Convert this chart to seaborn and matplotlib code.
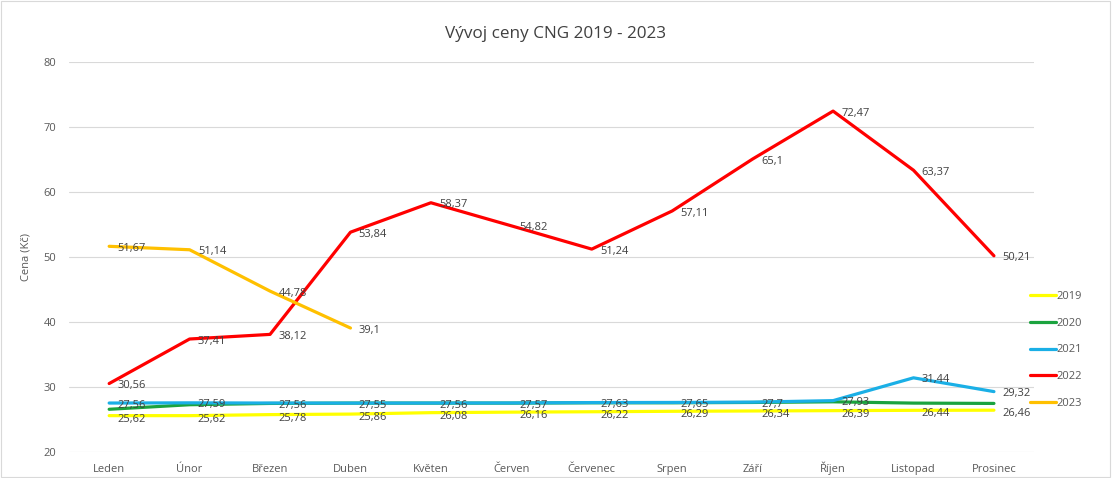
import matplotlib
matplotlib.use("Agg")
import matplotlib.pyplot as plt
import seaborn as sns
import pandas as pd
from matplotlib.lines import Line2D
from matplotlib.patches import Rectangle

months = ["Leden", "Únor", "Březen", "Duben", "Květen", "Červen", "Červenec",
          "Srpen", "Září", "Říjen", "Listopad", "Prosinec"]
y2019 = [25.62, 25.62, 25.78, 25.86, 26.08, 26.16, 26.22, 26.29, 26.34, 26.39, 26.44, 26.46]
y2020 = [26.6, 27.3, 27.5, 27.55, 27.55, 27.55, 27.6, 27.6, 27.65, 27.75, 27.55, 27.5]
y2021 = [27.56, 27.59, 27.56, 27.55, 27.56, 27.57, 27.63, 27.65, 27.7, 27.93, 31.44, 29.32]
y2022 = [30.56, 37.41, 38.12, 53.84, 58.37, 54.82, 51.24, 57.11, 65.1, 72.47, 63.37, 50.21]
y2023 = [51.67, 51.14, 44.78, 39.1]
years = ["2019", "2020", "2021", "2022", "2023"]
series = {"2019": y2019, "2020": y2020, "2021": y2021, "2022": y2022, "2023": y2023}
labelled = ["2019", "2021", "2022", "2023"]
colors = {"2019": "#FFFF00", "2020": "#1BA33E", "2021": "#1AAFE6", "2022": "#FF0000", "2023": "#FFC000"}

rows = []
for yr in years:
    for i, v in enumerate(series[yr]):
        rows.append({"Měsíc": i, "Cena": v, "Rok": yr})
df = pd.DataFrame(rows)

sns.set_theme(style="white")
plt.rcParams['font.family'] = ['Open Sans', 'DejaVu Sans']

fig = plt.figure(figsize=(11.12, 4.78), dpi=100)
ax = fig.add_axes([0.062, 0.054, 0.868, 0.816])

sns.lineplot(data=df, x="Měsíc", y="Cena", hue="Rok", hue_order=years,
             palette=colors, linewidth=2.3, ax=ax, legend=False, sort=False)

for yr in labelled:
    for i, v in enumerate(series[yr]):
        txt = f"{v:g}".replace(".", ",")
        dy = -1.5 if yr != "2019" else -2.5
        ax.annotate(txt, (i, v), xytext=(6, dy), textcoords="offset points",
                    ha="left", va="center", fontsize=8, color="#404040")

ax.set_xlim(-0.5, 11.5)
ax.set_ylim(20, 80)
ax.set_yticks(range(20, 81, 10))
ax.set_xticks(range(len(months)))
ax.set_xticklabels(months, va="baseline")
ax.tick_params(axis="y", labelsize=8, colors="#595959", length=0, pad=9)
ax.tick_params(axis="x", labelsize=8, colors="#595959", length=0, pad=14)
ax.yaxis.grid(True, color="#D9D9D9", linewidth=0.8)
ax.xaxis.grid(False)
for s in ax.spines.values():
    s.set_visible(False)
ax.set_xlabel("")
ax.set_ylabel("Cena (Kč)", fontsize=8, color="#595959", labelpad=9)

fig.suptitle("Vývoj ceny CNG 2019 - 2023", y=0.945, fontsize=12.3, color="#404040")

handles = [Line2D([0], [0], color=colors[y], linewidth=2.3) for y in years]
fig.legend(handles, years, loc="center left", bbox_to_anchor=(0.917, 0.268),
           frameon=False, fontsize=8, handlelength=2.4, handletextpad=0.05,
           labelspacing=1.4, labelcolor="#595959")

fig.patches.append(Rectangle((0.001, 0.002), 0.997, 0.996, transform=fig.transFigure,
                             fill=False, edgecolor="#D9D9D9", linewidth=0.8))

fig.savefig("out.png", dpi=100)
